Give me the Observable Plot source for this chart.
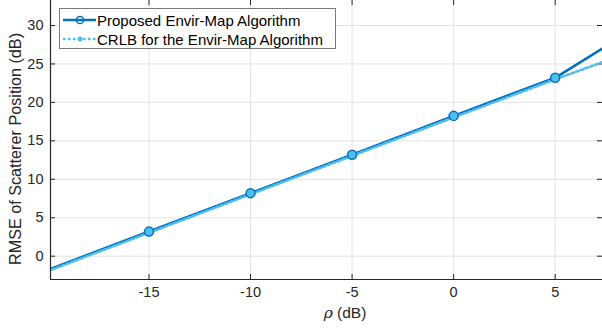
<!DOCTYPE html>
<html>
<head>
<meta charset="utf-8">
<script src="https://cdn.jsdelivr.net/npm/d3@7"></script>
<script src="https://cdn.jsdelivr.net/npm/@observablehq/plot@0.6"></script>
<style>
  html, body { margin: 0; padding: 0; background: #fff; }
  #wrap { position: relative; width: 602px; height: 329px; overflow: hidden; font-family: "Liberation Sans", Arial, sans-serif; }
  #legend { position: absolute; left: 59px; top: 8px; width: 275px; height: 39px; border: 1px solid #7a7a7a; background: #fff; font-size: 15px; color: #000; }
  .row { position: absolute; left: 0; height: 18px; display: flex; align-items: center; }
  .row span { position: absolute; left: 37px; white-space: nowrap; }
</style>
</head>
<body>
<div id="wrap"></div>
<script>
// ---- data ----
const rho = [-20, -15, -10, -5, 0, 5, 10];
const proposed = [-1.8, 3.2, 8.2, 13.2, 18.25, 23.2, 31.4];
const crlb = [-1.95, 3.05, 8.05, 13.05, 18.05, 23.0, 27.8];
const seriesNames = ["Proposed Envir-Map Algorithm", "CRLB for the Envir-Map Algorithm"];
const xTicks = [-15, -10, -5, 0, 5];
const yTicks = [0, 5, 10, 15, 20, 25, 30];
const xLabel = "(dB)";
const yLabel = "RMSE of Scatterer Position (dB)";

const colProp = "#0072BD";
const colCrlb = "#4DBEEE";
const axisCol = "#262626";

const rowsP = rho.map((x, i) => ({x, y: proposed[i]}));
const rowsC = rho.map((x, i) => ({x, y: crlb[i]}));
const xDom = [-19.85, 7.33];
const yDom = [-3.03, 33.25];
const inDom = d => d.x > xDom[0] + 1 && d.x < xDom[1];

const W = 602, H = 329, mL = 50, mB = 50;
const fw = W - mL, fh = H - mB;
const tl = 5;

const plot = Plot.plot({
  width: W, height: H,
  marginLeft: mL, marginRight: 0, marginTop: 0, marginBottom: mB,
  style: {fontFamily: "Liberation Sans, Arial, sans-serif", fontSize: "14px", background: "#fff", overflow: "visible"},
  x: {domain: xDom, axis: null},
  y: {domain: yDom, axis: null},
  marks: [
    Plot.ruleX(xTicks, {x: d => d, stroke: "#e3e3e3", strokeWidth: 1}),
    Plot.ruleY(yTicks, {y: d => d, stroke: "#e3e3e3", strokeWidth: 1}),
    // inward tick marks
    Plot.ruleX(xTicks, {x: d => d, insetTop: fh - tl, stroke: axisCol, strokeWidth: 1}),
    Plot.ruleX(xTicks, {x: d => d, insetBottom: fh - tl, stroke: axisCol, strokeWidth: 1}),
    Plot.ruleY(yTicks, {y: d => d, insetRight: fw - tl, stroke: axisCol, strokeWidth: 1}),
    Plot.ruleY(yTicks, {y: d => d, insetLeft: fw - tl, stroke: axisCol, strokeWidth: 1}),
    Plot.axisX({ticks: xTicks, tickFormat: d => String(d), tickSize: 0, tickPadding: 7, label: null, fill: axisCol, fontSize: 14.5}),
    Plot.axisY({ticks: yTicks, tickFormat: d => String(d), tickSize: 0, tickPadding: 7, label: null, fill: axisCol, fontSize: 14.5}),
    Plot.line(rowsP, {x: "x", y: "y", stroke: colProp, strokeWidth: 2.6, clip: true}),
    Plot.line(rowsC, {x: "x", y: "y", stroke: colCrlb, strokeWidth: 2.6, strokeDasharray: "2.5,2.5", clip: true}),
    Plot.dot(rowsP.filter(inDom), {x: "x", y: "y", r: 4.5, stroke: colProp, strokeWidth: 1.5, fill: colCrlb}),
    Plot.dot(rowsC.filter(inDom), {x: "x", y: "y", r: 2.5, fill: colCrlb, stroke: null}),
    // axis lines
    Plot.ruleX([xDom[0]], {stroke: axisCol, strokeWidth: 1.2}),
    Plot.ruleY([yDom[0]], {stroke: axisCol, strokeWidth: 1.2}),
    Plot.text([yLabel], {text: d => d, frameAnchor: "left", textAnchor: "middle", rotate: -90, dx: -35, dy: 9, fill: axisCol, fontSize: 16.2})
  ]
});

const wrap = document.getElementById("wrap");
wrap.appendChild(plot);

// x label with italic rho
const xl = document.createElementNS("http://www.w3.org/2000/svg", "text");
xl.setAttribute("x", 345);
xl.setAttribute("y", 318);
xl.setAttribute("text-anchor", "middle");
xl.setAttribute("fill", axisCol);
xl.setAttribute("font-size", "15.5");
xl.innerHTML = '<tspan font-style="italic" font-family="DejaVu Serif, serif">ρ</tspan> ' + xLabel;
plot.appendChild(xl);

// legend
const leg = document.createElement("div");
leg.id = "legend";
const samples = [
  `<svg width="36" height="18" style="position:absolute;left:2px;top:0"><line x1="1" y1="9" x2="34" y2="9" stroke="${colProp}" stroke-width="2.6"/><circle cx="18" cy="9" r="3.6" fill="none" stroke="${colProp}" stroke-width="1.5"/></svg>`,
  `<svg width="36" height="18" style="position:absolute;left:2px;top:0"><line x1="1" y1="9" x2="34" y2="9" stroke="${colCrlb}" stroke-width="2.6" stroke-dasharray="2.5,2.5"/><circle cx="18" cy="9" r="2.5" fill="${colCrlb}"/></svg>`
];
seriesNames.forEach((name, i) => {
  const r = document.createElement("div");
  r.className = "row";
  r.style.top = (2 + i * 19) + "px";
  r.style.width = "100%";
  r.innerHTML = samples[i] + `<span>${name}</span>`;
  leg.appendChild(r);
});
wrap.appendChild(leg);
</script>
</body>
</html>
